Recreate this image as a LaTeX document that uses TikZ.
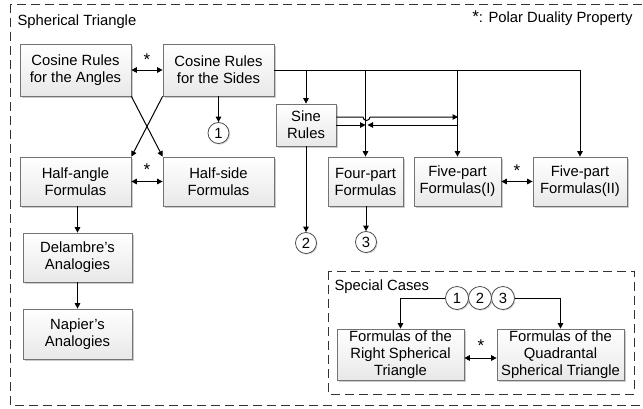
\documentclass[tikz,border=0pt]{standalone}
\usepackage{fontspec}
\setmainfont{Liberation Sans}
\usetikzlibrary{arrows.meta,shadows,calc}
\begin{document}
\begin{tikzpicture}[x=1pt,y=-1pt,
  font=\fontsize{14.8}{17}\selectfont,
  box/.style={draw=black!55, line width=0.75pt, top color=white, bottom color=black!9,
    drop shadow={shadow xshift=1.5pt, shadow yshift=-1.5pt, opacity=0.2, fill=black},
    align=center, inner sep=1pt},
  circ/.style={circle, draw=black!75, line width=0.75pt, fill=white, minimum size=21pt, inner sep=0pt,
    drop shadow={shadow xshift=1.2pt, shadow yshift=-1.2pt, opacity=0.15, fill=black}},
  conn/.style={line width=1pt, draw=black},
  arr/.style={conn, -{Triangle[length=5.5pt,width=5.5pt]}},
  darr/.style={conn, {Triangle[length=5.5pt,width=5.5pt]}-{Triangle[length=5.5pt,width=5.5pt]}},
  frame/.style={draw=black!80, line width=0.9pt, dash pattern=on 9pt off 5pt},
  star/.style={font=\fontsize{17}{17}\selectfont, inner sep=0pt}
]
\useasboundingbox (0,0) rectangle (643,408);
% frames
\draw[frame] (10,4) rectangle (660,405);
\draw[frame] (328,271) rectangle (634,394);
\node[anchor=west] (title) at (14,22) {Spherical Triangle};
\node[anchor=east] (legend) at (636,18) {{\fontsize{17}{17}\selectfont *}: Polar Duality Property};
\node[anchor=west] (sctitle) at (331,287) {Special Cases};
% boxes
\node[box, minimum width=111pt, minimum height=52pt] (cA) at (75.5,70) {Cosine Rules\\for the Angles};
\node[box, minimum width=111pt, minimum height=52pt] (cS) at (218.5,70) {Cosine Rules\\for the Sides};
\node[box, minimum width=60pt, minimum height=42pt] (sine) at (306,125) {Sine\\Rules};
\node[box, minimum width=111pt, minimum height=49pt] (hA) at (75.5,181.5) {Half-angle\\Formulas};
\node[box, minimum width=111pt, minimum height=49pt] (hS) at (218.5,181.5) {Half-side\\Formulas};
\node[box, minimum width=109pt, minimum height=49pt] (del) at (77.5,257.5) {Delambre's\\Analogies};
\node[box, minimum width=109pt, minimum height=50pt] (nap) at (77.5,334) {Napier's\\Analogies};
\node[box, minimum width=75pt, minimum height=49pt] (four) at (365.5,181.5) {Four-part\\Formulas};
\node[box, minimum width=87pt, minimum height=49pt] (fiveI) at (457.5,181.5) {Five-part\\Formulas(I)};
\node[box, minimum width=94pt, minimum height=49pt] (fiveII) at (580,181.5) {Five-part\\Formulas(II)};
\node[box, minimum width=127pt, minimum height=51pt] (right) at (400.5,354.5) {Formulas of the\\Right Spherical\\Triangle};
\node[box, minimum width=127pt, minimum height=51pt] (quad) at (560.5,354.5) {Formulas of the\\Quadrantal\\Spherical Triangle};
% circles
\node[circ] (c1) at (218.5,133) {1};
\node[circ] (c2) at (306,243) {2};
\node[circ] (c3) at (366,242) {3};
\node[circ, minimum size=23pt] (s1) at (457,298) {1};
\node[circ, minimum size=23pt] (s2) at (480,298) {2};
\node[circ, minimum size=23pt] (s3) at (503,298) {3};
% stars
\node[star] (st1) at (147,60) {*};
\node[star] (st2) at (147,170) {*};
\node[star] (st3) at (517,171) {*};
\node[star] (st4) at (481,346) {*};
% connectors
\draw[darr] (cA.east) -- (cS.west);
\draw[darr] (hA.east) -- (hS.west);
\draw[darr] (fiveI.east) -- (fiveII.west);
\draw[darr] ([yshift=-3.5pt]right.east) -- ([yshift=-3.5pt]quad.west);
\draw[arr] (cA.south east) -- (hS.north west);
\draw[arr] (cS.south west) -- (hA.north east);
\draw[arr] (cS.south) -- (c1.north);
\draw[arr] (cS.east) -| (fiveII.north);
\draw[arr] (sine.north |- cS.east) -- (sine.north);
\draw[arr] (four.north |- cS.east) -- (four.north);
\draw[arr] (fiveI.north |- cS.east) -- (fiveI.north);
\coordinate (hop) at (366.5,117);
\coordinate (up) at (458,117);
\coordinate (lo) at (366.5,125);
\coordinate (lo2) at (458,125);
\draw[arr] ([yshift=8pt]sine.east) -- ([xshift=-3.5pt]hop) arc (180:0:3.5) -- (up);
\draw[arr] (sine.east) -- ([xshift=-1pt]lo);
\draw[arr] (lo2) -- ([xshift=1pt]lo);
\draw[arr] (sine.south) -- (c2.north);
\draw[arr] (four.south -| c3.north) -- (c3.north);
\draw[arr] (del.north |- hA.south) -- (del.north);
\draw[arr] (del.south) -- (nap.north);
\draw[arr] (s1.west) -| (right.north);
\draw[arr] (s3.east) -| (quad.north);
\end{tikzpicture}
\end{document}
